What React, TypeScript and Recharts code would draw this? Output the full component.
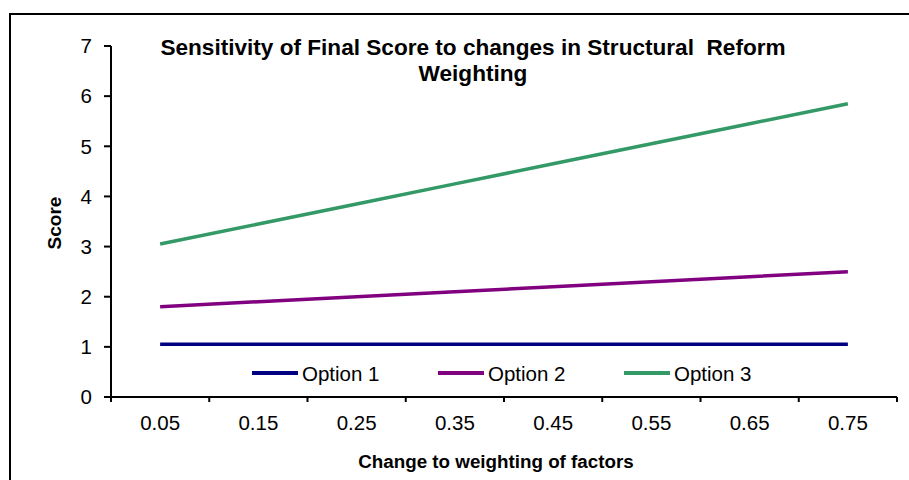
import React from 'react';
import { LineChart, Line, XAxis, YAxis, Legend, Label } from 'recharts';

// weighting change (category centres) and the band edges between them
const weights = [0.05, 0.15, 0.25, 0.35, 0.45, 0.55, 0.65, 0.75];
const bandEdges = [0, 0.1, 0.2, 0.3, 0.4, 0.5, 0.6, 0.7, 0.8];

const option1 = [1.05, 1.05, 1.05, 1.05, 1.05, 1.05, 1.05, 1.05];
const option2 = [1.8, 1.9, 2.0, 2.1, 2.2, 2.3, 2.4, 2.5];
const option3 = [3.05, 3.45, 3.85, 4.25, 4.65, 5.05, 5.45, 5.85];

const yTicks = [0, 1, 2, 3, 4, 5, 6, 7];

const series = [
  { key: 'option1', name: 'Option 1', color: '#000080' },
  { key: 'option2', name: 'Option 2', color: '#800080' },
  { key: 'option3', name: 'Option 3', color: '#339966' },
];

const data = weights.map((w, i) => ({
  w,
  option1: option1[i],
  option2: option2[i],
  option3: option3[i],
}));

const xTicks = [...weights, ...bandEdges].sort((a, b) => a - b);

const FONT = '"Liberation Sans", Arial, sans-serif';
const TICK_SIZE = 5;
const TICK_MARGIN = 13;

// labels sit on the category centres, tick marks on the band edges
const XTick = (props: any) => {
  const { x, y, payload } = props;
  if (weights.includes(payload.value)) {
    return (
      <text x={x} y={y} dy="0.71em" textAnchor="middle" fontSize={20.5} fill="#000" fontFamily={FONT}>
        {payload.value.toFixed(2)}
      </text>
    );
  }
  const top = y - TICK_SIZE - TICK_MARGIN;
  return <line x1={x} x2={x} y1={top} y2={top + TICK_SIZE} stroke="#000" strokeWidth={2} />;
};

const LegendContent = (props: any) => (
  <div style={{ display: 'flex', fontFamily: FONT }}>
    {props.payload.map((p: any) => (
      <div key={p.value} style={{ width: 186, display: 'flex', alignItems: 'center' }}>
        <span style={{ width: 46, height: 4, background: p.color, display: 'inline-block', marginTop: -2 }} />
        <span style={{ marginLeft: 4, fontSize: 20.5, color: '#000' }}>{p.value}</span>
      </div>
    ))}
  </div>
);

export default function App() {
  return (
    <div style={{ position: 'absolute', left: 0, top: 0, width: 909, height: 480, overflow: 'hidden', background: '#fff' }}>
      <div
        style={{
          position: 'absolute',
          left: 9,
          top: 13,
          width: 930,
          height: 500,
          border: '2px solid #000',
        }}
      />
      <div
        style={{
          position: 'absolute',
          left: 160,
          width: 626,
          top: 35,
          textAlign: 'center',
          fontFamily: FONT,
          fontWeight: 'bold',
          fontSize: 22.6,
          lineHeight: '26px',
          whiteSpace: 'pre',
          color: '#000',
        }}
      >
        {'Sensitivity of Final Score to changes in Structural  Reform\nWeighting'}
      </div>
      <LineChart
        width={909}
        height={480}
        data={data}
        margin={{ top: 46, right: 12, bottom: 43, left: 0 }}
        style={{ position: 'absolute', left: 0, top: 0 }}
      >
        <XAxis
          dataKey="w"
          type="number"
          domain={[0, 0.8]}
          ticks={xTicks}
          interval={0}
          height={40}
          tickLine={false}
          tickSize={TICK_SIZE}
          tickMargin={TICK_MARGIN}
          tick={<XTick />}
          axisLine={{ stroke: '#000', strokeWidth: 2 }}
        >
          <Label
            content={() => (
              <text x={496} y={461} dy="0.35em" textAnchor="middle" fontSize={18.8} fontWeight="bold" fill="#000" fontFamily={FONT}>
                Change to weighting of factors
              </text>
            )}
          />
        </XAxis>
        <YAxis
          width={111}
          domain={[0, 7]}
          ticks={yTicks}
          interval={0}
          tickSize={7}
          tickMargin={12}
          tick={{ fontSize: 20.5, fill: '#000', fontFamily: FONT }}
          tickLine={{ stroke: '#000', strokeWidth: 2 }}
          axisLine={{ stroke: '#000', strokeWidth: 2 }}
        >
          <Label
            content={() => (
              <text
                x={54}
                y={223}
                dy="0.35em"
                textAnchor="middle"
                transform="rotate(-90 54 223)"
                fontSize={19}
                fontWeight="bold"
                fill="#000"
                fontFamily={FONT}
              >
                Score
              </text>
            )}
          />
        </YAxis>
        {series.map((s) => (
          <Line
            key={s.key}
            type="linear"
            dataKey={s.key}
            name={s.name}
            stroke={s.color}
            strokeWidth={3.5}
            dot={false}
            isAnimationActive={false}
          />
        ))}
        <Legend
          layout="horizontal"
          verticalAlign="middle"
          wrapperStyle={{ left: 252, top: 362, width: 600 }}
          content={<LegendContent />}
        />
      </LineChart>
    </div>
  );
}
